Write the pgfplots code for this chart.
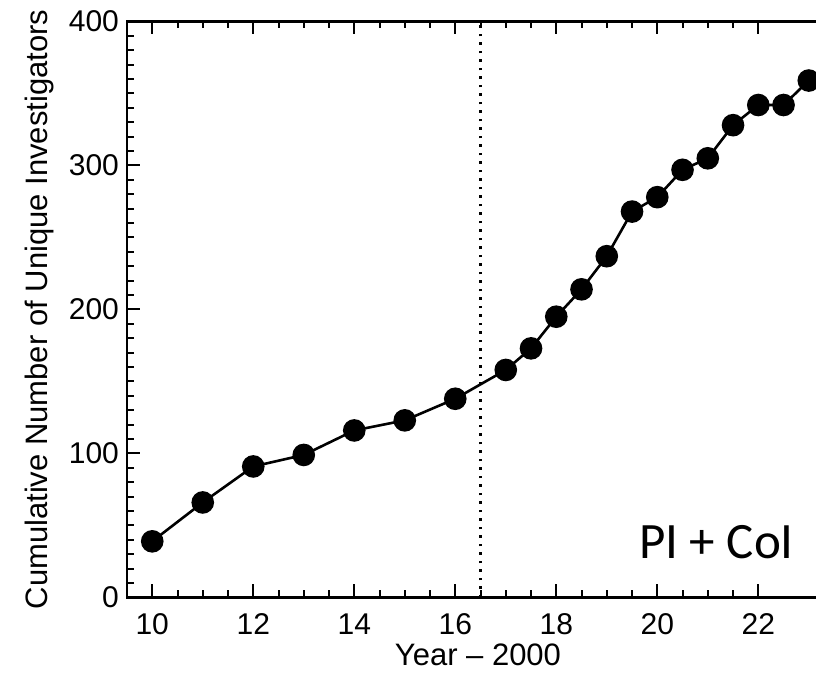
\documentclass[border=0pt]{standalone}
\usepackage{pgfplots}
\pgfplotsset{compat=1.18}
\usepackage{fontspec}
\setmainfont{Liberation Sans}
\newfontfamily\calibri{Carlito}
\begin{document}
\begin{tikzpicture}
\useasboundingbox (0,0) rectangle (408pt,336.5pt);
\clip (0,0) rectangle (408pt,336.5pt);
\begin{axis}[
  name=ax,
  at={(63.5pt,37.75pt)}, anchor=south west,
  scale only axis, width=351pt, height=288pt,
  xmin=9.5, xmax=23.4, ymin=0, ymax=400,
  xtick={10,12,...,22}, ytick={0,100,...,400},
  minor x tick num=3, minor y tick num=9,
  tick align=inside, xtick pos=both, ytick pos=both,
  major tick length=6.5pt, minor tick length=3.5pt,
  axis line style={line width=1.25pt},
  every tick/.style={black, line width=1pt},
  /pgf/number format/assume math mode=true,
  tick label style={font=\fontsize{15}{17}\selectfont},
  xticklabel style={yshift=-4.5pt},
  yticklabel style={xshift=-0.5pt},
  xlabel={Year -- 2000},
  ylabel={Cumulative Number of Unique Investigators},
  xlabel style={font=\fontsize{15.5}{18}\selectfont, at={(axis description cs:0.5,-0.0998)}, anchor=center},
  ylabel style={font=\fontsize{15.5}{18}\selectfont, at={(axis description cs:-0.1245,0.5)}, anchor=center, rotate=0},
  clip=false,
]
\addplot[black, line width=1.4pt, dash pattern=on 1.4pt off 2.85pt] coordinates {(16.5,0) (16.5,400)};
\addplot[black, line width=1.3pt, mark=*, mark size=5pt, mark options={solid, fill=black}] coordinates {
(10,39) (11,66) (12,91) (13,99) (14,116) (15,123) (16,138) (17,158) (17.5,173) (18,195)
(18.5,214) (19,237) (19.5,268) (20,278) (20.5,297) (21,305) (21.5,328) (22,342) (22.5,342) (23,359)
};
\node[anchor=base, font=\calibri\fontsize{25.5}{30}\selectfont, inner sep=0pt] at (axis description cs:0.8397,0.068) {PI + CoI};
\end{axis}
\end{tikzpicture}
\end{document}
